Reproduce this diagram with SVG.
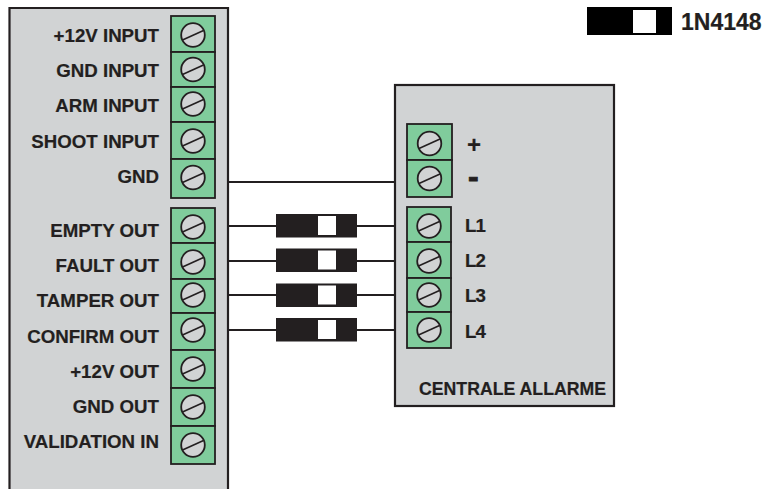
<svg xmlns="http://www.w3.org/2000/svg" width="765" height="489" viewBox="0 0 765 489">
<style>
.box{fill:#d1d3d4;stroke:#231f20;stroke-width:2.2}
.t{fill:#80cc9c;stroke:#231f20;stroke-width:1.8}
.s{fill:#d1d3d4;stroke:#231f20;stroke-width:1.8}
.w{fill:none;stroke:#231f20;stroke-width:2}
.sl{fill:none;stroke:#231f20;stroke-width:1.6}
.d{fill:#231f20}
.h{fill:#fff}
text{font-family:"Liberation Sans",Arial,sans-serif;font-weight:700;font-size:18.700px;fill:#231f20;stroke:#231f20;stroke-width:.2}
.l{text-anchor:end}
.n{letter-spacing:-.8px}
</style>
<defs>
<g id="screw"><circle class="s" r="11.800"/><path class="sl" d="M-10.500 5L10.500-4.500"/></g>
<g id="diode"><rect class="d" x="0" y="0" width="81" height="23.500"/><rect class="h" x="42" y="2" width="18" height="19"/></g>
</defs>
<rect width="765" height="489" fill="#fff"/>
<g id="connectors">
<path class="w" d="M228 182H395M228 226H395M228 261H395M228 295H395M228 330H395"/>
<use href="#diode" x="276" y="214"/>
<use href="#diode" x="276" y="248.500"/>
<use href="#diode" x="276" y="283.500"/>
<use href="#diode" x="276" y="318"/>
</g>
<g id="module-left">
<path class="box" d="M9.500 489V8H228V489"/>
<g id="left-inputs">
<rect class="t" x="171" y="16" width="44" height="36"/><use href="#screw" x="193" y="35"/><text class="l" x="159" y="41.500">+12V INPUT</text>
<rect class="t" x="171" y="52" width="44" height="35"/><use href="#screw" x="193" y="69.500"/><text class="l" x="159" y="77">GND INPUT</text>
<rect class="t" x="171" y="87" width="44" height="35"/><use href="#screw" x="193" y="104"/><text class="l" x="159" y="112">ARM INPUT</text>
<rect class="t" x="171" y="122" width="44" height="37"/><use href="#screw" x="193" y="141"/><text class="l" x="159" y="148">SHOOT INPUT</text>
<rect class="t" x="171" y="159" width="44" height="39"/><use href="#screw" x="193" y="177.500"/><text class="l" x="159" y="183">GND</text>
</g>
<g id="left-outputs">
<rect class="t" x="171" y="208" width="44" height="35"/><use href="#screw" x="193" y="227"/><text class="l" x="159" y="237">EMPTY OUT</text>
<rect class="t" x="171" y="243" width="44" height="36"/><use href="#screw" x="193" y="262"/><text class="l" x="159" y="272">FAULT OUT</text>
<rect class="t" x="171" y="279" width="44" height="34"/><use href="#screw" x="193" y="295"/><text class="l" x="159" y="307">TAMPER OUT</text>
<rect class="t" x="171" y="313" width="44" height="37"/><use href="#screw" x="193" y="330"/><text class="l" x="159" y="343">CONFIRM OUT</text>
<rect class="t" x="171" y="350" width="44" height="38"/><use href="#screw" x="193" y="369"/><text class="l" x="159" y="378">+12V OUT</text>
<rect class="t" x="171" y="388" width="44" height="38"/><use href="#screw" x="193" y="407"/><text class="l" x="159" y="413">GND OUT</text>
<rect class="t" x="171" y="426" width="44" height="38"/><use href="#screw" x="193" y="445"/><text class="l" x="159" y="448">VALIDATION IN</text>
</g>
</g>
<g id="centrale">
<rect class="box" x="395" y="85" width="219" height="321"/>
<g id="power">
<rect class="t" x="407" y="124" width="45" height="36"/><use href="#screw" x="429.500" y="143.500"/><text x="467" y="152.500" style="font-size:24px">+</text>
<rect class="t" x="407" y="160" width="45" height="37"/><use href="#screw" x="429.500" y="178.500"/><text x="468" y="187" style="font-size:32px;stroke-width:.8">-</text>
</g>
<g id="lines">
<rect class="t" x="407" y="207" width="44" height="35"/><use href="#screw" x="429" y="226"/><text class="n" x="465" y="232">L1</text>
<rect class="t" x="407" y="242" width="44" height="36"/><use href="#screw" x="429" y="261"/><text class="n" x="465" y="267">L2</text>
<rect class="t" x="407" y="278" width="44" height="34"/><use href="#screw" x="429" y="295"/><text class="n" x="465" y="302">L3</text>
<rect class="t" x="407" y="312" width="44" height="36"/><use href="#screw" x="429" y="330"/><text class="n" x="465" y="338">L4</text>
</g>
<text x="419" y="394.500" style="font-size:17.700px">CENTRALE ALLARME</text>
</g>
<g id="legend">
<rect x="587" y="7" width="85" height="28" fill="#000"/><rect class="h" x="633" y="10" width="23" height="23"/>
<text x="681" y="30" style="font-size:23px">1N4148</text>
</g>
</svg>
